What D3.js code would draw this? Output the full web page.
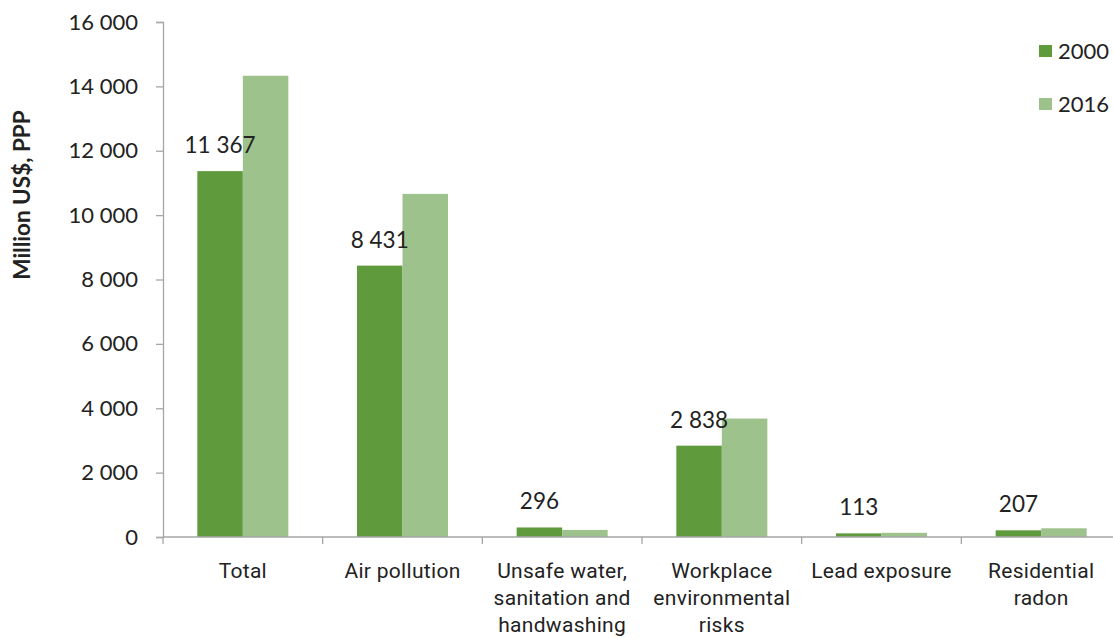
<!DOCTYPE html>
<html><head><meta charset="utf-8">
<script src="https://cdn.jsdelivr.net/npm/d3@7/dist/d3.min.js"></script>
<style>body{margin:0;background:#fff;}svg{display:block;}</style>
</head><body>
<svg id="chart" width="1113" height="638"></svg>
<script>
const categories = [["Total"],["Air pollution"],["Unsafe water,","sanitation and","handwashing"],["Workplace","environmental","risks"],["Lead exposure"],["Residential","radon"]];
const series = ["2000","2016"];
const values2000 = [11367, 8431, 296, 2838, 113, 207];
const values2016 = [14330, 10660, 220, 3680, 130, 270];
const yTicks = [0,2000,4000,6000,8000,10000,12000,14000,16000];
const colors = ["#5f9a3c","#9dc28b"];

const svg = d3.select("#chart");
const mLeft = 163, mRight = 1121, mTop = 22, mBottom = 537;
const keys = categories.map((c,i)=>i);
const x = d3.scaleBand().domain(keys).range([mLeft,mRight]).paddingInner(0).paddingOuter(0);
const x1 = d3.scaleBand().domain(series).range([x.bandwidth()*0.215, x.bandwidth()*0.785]);
const y = d3.scaleLinear().domain([0,16000]).range([mBottom,mTop]);
const fmt = v => d3.format(",")(v).replace(/,/g," ");
const numFont = "Lato, 'Open Sans', sans-serif";

// y axis
const ya = svg.append("g").attr("transform",`translate(${mLeft},0)`)
  .call(d3.axisLeft(y).tickValues(yTicks).tickSize(7).tickPadding(18).tickFormat(fmt));
ya.select(".domain").attr("stroke","#a6a6a6").attr("stroke-width",1.3);
ya.selectAll(".tick line").attr("stroke","#a6a6a6").attr("stroke-width",1.3);
ya.selectAll(".tick text").attr("font-family",numFont).attr("font-size",22).attr("fill","#222");

// bars
const data = keys.map(i => ({i, vals:[values2000[i], values2016[i]]}));
const g = svg.append("g");
data.forEach(d => {
  series.forEach((s,k) => {
    g.append("rect")
      .attr("x", x(d.i)+x1(s)).attr("width", x1.bandwidth())
      .attr("y", y(d.vals[k])).attr("height", y(0)-y(d.vals[k]))
      .attr("fill", colors[k]);
  });
  g.append("text")
    .attr("x", x(d.i)+x1("2000")+x1.bandwidth()/2)
    .attr("y", y(d.vals[0]) - 18)
    .attr("text-anchor","middle")
    .attr("font-family",numFont).attr("font-size",22.5).attr("fill","#222")
    .text(fmt(d.vals[0]));
});

// x axis
const xa = svg.append("g").attr("transform",`translate(0,${mBottom})`);
xa.append("line").attr("x1",mLeft).attr("x2",mRight).attr("y1",0).attr("y2",0).attr("stroke","#a6a6a6").attr("stroke-width",1.3);
d3.range(keys.length+1).forEach(j => {
  const xp = mLeft + j*x.bandwidth();
  xa.append("line").attr("x1",xp).attr("x2",xp).attr("y1",0).attr("y2",7).attr("stroke","#a6a6a6").attr("stroke-width",1.3);
});
categories.forEach((lines,i) => {
  const t = xa.append("text").attr("text-anchor","middle")
    .attr("font-family","Roboto, sans-serif").attr("font-size",21).attr("letter-spacing",0.3).attr("fill","#222");
  lines.forEach((ln,li) => {
    t.append("tspan").attr("x", x(i)+x.bandwidth()/2).attr("y", 41 + li*27).text(ln);
  });
});

// y title
svg.append("text").attr("transform","translate(30,195) rotate(-90)")
  .attr("text-anchor","middle").attr("font-family",numFont).attr("font-weight","bold")
  .attr("font-size",22.5).attr("fill","#222").text("Million US$, PPP");

// legend
series.forEach((s,k) => {
  const ly = 51 + k*53;
  svg.append("rect").attr("x",1039).attr("y",ly-6).attr("width",13).attr("height",12).attr("fill",colors[k]);
  svg.append("text").attr("x",1058).attr("y",ly+8).attr("font-family",numFont).attr("font-size",22).attr("fill","#222").text(s);
});
</script>
</body></html>
